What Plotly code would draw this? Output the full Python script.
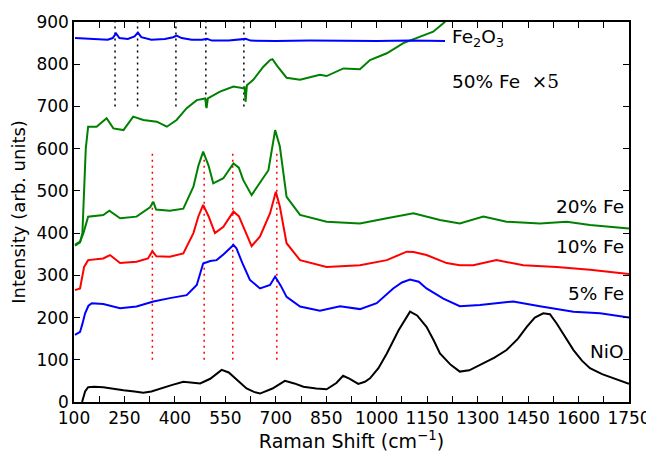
import plotly.graph_objects as go

# ---- data ----
nio_x = [124,133,142,160,187,215,247,280,306,330,356,390,425,450,475,505,539,560,574,595,613,635,653,690,727,755,782,820,851,880,900,920,945,965,980,1005,1030,1065,1099,1120,1148,1170,1188,1220,1247,1275,1307,1350,1386,1420,1446,1470,1495,1515,1535,1560,1585,1610,1634,1670,1703,1730,1750]
nio_y = [0,25,35,36,35,31,28,25,22,25,32,40,48,46,44,55,76,70,60,45,32,24,20,32,50,44,36,32,30,45,62,55,43,48,56,80,115,170,214,205,178,145,115,88,72,75,88,105,123,150,178,200,210,208,186,155,123,98,80,66,56,48,43]

fe5_x = [103,118,125,133,143,153,187,237,286,336,385,435,465,484,505,524,545,565,574,583,600,623,653,683,698,715,732,772,831,891,950,1000,1049,1075,1099,1125,1148,1198,1247,1307,1406,1485,1585,1664,1750]
fe5_y = [159,166,185,210,228,234,232,222,226,238,246,253,277,328,334,336,350,365,372,364,330,289,269,277,297,275,249,226,216,227,220,234,269,283,290,285,269,245,227,230,238,227,214,210,200]

fe10_x = [103,118,130,142,187,207,237,286,320,333,345,385,425,455,470,484,500,519,544,574,590,603,628,653,683,700,712,732,772,851,950,1030,1089,1110,1148,1208,1247,1287,1356,1436,1535,1634,1750]
fe10_y = [265,269,320,336,340,348,329,332,340,357,345,344,352,400,440,467,440,400,415,451,440,415,369,392,447,498,463,376,336,320,324,336,356,355,348,329,324,324,336,324,320,313,303]

fe20_x = [103,118,128,142,187,205,237,286,326,336,344,385,425,455,470,484,500,514,544,574,590,603,628,653,678,698,712,732,772,851,950,1030,1109,1188,1247,1317,1386,1485,1565,1634,1750]
fe20_y = [372,380,400,439,443,453,435,439,461,474,456,453,458,510,560,593,560,518,530,565,555,526,490,518,549,644,605,486,443,427,423,435,447,431,423,439,427,423,427,419,411]

fe50_x = [103,118,125,130,135,142,167,197,217,247,276,306,346,376,405,435,465,490,494,498,534,574,603,607,610,614,633,663,683,690,705,732,772,831,851,901,950,980,1030,1079,1129,1168,1198,1215]
fe50_y = [370,378,400,500,600,652,652,672,648,644,676,668,664,652,668,696,715,719,696,719,735,747,743,745,711,750,763,794,810,812,795,768,763,775,772,790,788,810,826,850,865,877,897,910]

fe2o3_x = [103,150,200,215,225,235,260,280,290,300,330,370,395,405,420,450,480,495,510,560,600,610,625,700,800,900,1000,1100,1203]
fe2o3_y = [862,860,858,862,873,862,860,866,875,864,858,860,864,868,862,858,858,860,856,856,858,860,856,855,856,855,855,856,855]

red_lines_x = [333, 487, 572, 703]
red_lines_y = [100, 590]
black_lines_x = [222, 289, 403, 492, 605]
black_lines_y = [700, 900]

x_ticks = [100,175,250,325,400,475,550,625,700,775,850,925,1000,1075,1150,1225,1300,1375,1450,1525,1600,1675,1750]
x_labels = ["100","","250","","400","","550","","700","","850","","1000","","1150","","1300","","1450","","1600","","1750"]
y_ticks = [0,100,200,300,400,500,600,700,800,900]

fig = go.Figure()

# dotted guide lines
for xv in black_lines_x:
    fig.add_trace(go.Scatter(x=[xv, xv], y=black_lines_y, mode="lines",
                             line=dict(color="black", width=1.5, dash="2px,4px"), hoverinfo="skip"))
for xv in red_lines_x:
    fig.add_trace(go.Scatter(x=[xv, xv], y=red_lines_y, mode="lines",
                             line=dict(color="red", width=1.5, dash="2px,4px"), hoverinfo="skip"))

series = [
    (nio_x, nio_y, "black"),
    (fe5_x, fe5_y, "#0000ff"),
    (fe10_x, fe10_y, "#ff0000"),
    (fe20_x, fe20_y, "#008000"),
    (fe50_x, fe50_y, "#008000"),
    (fe2o3_x, fe2o3_y, "#0000ff"),
]
for xs, ys, c in series:
    fig.add_trace(go.Scatter(x=xs, y=ys, mode="lines", line=dict(color=c, width=2)))

font = "DejaVu Sans, Verdana, sans-serif"
ann = [
    dict(x=1218, y=862, text="Fe<sub>2</sub>O<sub>3</sub>", xanchor="left"),
    dict(x=1218, y=759, text="50% Fe  <span style='font-family:DejaVu Serif'>×5</span>", xanchor="left"),
    dict(x=1742, y=463, text="20% Fe", xanchor="right"),
    dict(x=1742, y=368, text="10% Fe", xanchor="right"),
    dict(x=1742, y=257, text="5% Fe", xanchor="right"),
    dict(x=1742, y=119, text="NiO", xanchor="right"),
]
for a in ann:
    fig.add_annotation(x=a["x"], y=a["y"], text=a["text"], xanchor=a["xanchor"], yanchor="middle",
                       showarrow=False, font=dict(family=font, size=18.5, color="black"))

axis_common = dict(showline=True, linecolor="black", linewidth=1.5, mirror="ticks",
                   ticks="inside", ticklen=6, tickwidth=1.2, tickcolor="black",
                   showgrid=False, zeroline=False, automargin=False,
                   tickfont=dict(family=font, size=17, color="black"))

fig.update_xaxes(range=[100, 1750], tickvals=x_ticks, ticktext=x_labels,
                 title=dict(text="Raman Shift (cm<sup>−1</sup>)", font=dict(family=font, size=19, color="black"), standoff=2),
                 **axis_common)
fig.update_yaxes(range=[0, 900], tickvals=y_ticks,
                 title=dict(text="Intensity (arb. units)", font=dict(family=font, size=18, color="black"), standoff=6),
                 **axis_common)

# page body has an 8px margin, so the figure is sized to fit inside the 654x453 window
fig.update_layout(width=646, height=445, margin=dict(l=66, r=25, t=14, b=51),
                  plot_bgcolor="white", paper_bgcolor="white", showlegend=False)

fig.write_html("out.html")
